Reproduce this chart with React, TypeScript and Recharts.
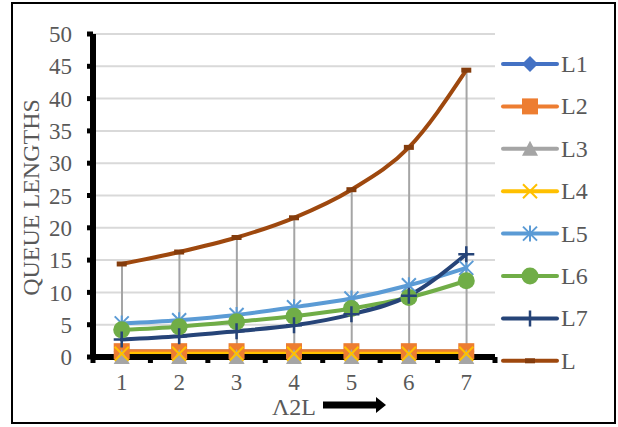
import React from 'react';
import { ComposedChart, Line, Bar, XAxis, YAxis, CartesianGrid } from 'recharts';

const categories = [1, 2, 3, 4, 5, 6, 7];
const L1 = [0.85, 0.85, 0.85, 0.85, 0.85, 0.85, 0.85];
const L2 = [0.9, 0.9, 0.9, 0.9, 0.9, 0.9, 0.9];
const L3 = [0, 0, 0, 0, 0, 0, 0];
const L4 = [0.5, 0.5, 0.5, 0.5, 0.5, 0.5, 0.5];
const L5 = [5.2, 5.7, 6.5, 7.7, 9.05, 11.1, 13.8];
const L6 = [4.2, 4.7, 5.45, 6.3, 7.5, 9.2, 11.8];
const L7 = [2.7, 3.2, 4.0, 4.9, 6.6, 9.5, 15.9];
const L = [14.4, 16.25, 18.5, 21.55, 25.9, 32.45, 44.4];
const yTicks = [0, 5, 10, 15, 20, 25, 30, 35, 40, 45, 50];
const xLabel = 'Λ2L';
const yLabel = 'QUEUE LENGTHS';

const series = [
  { key: 'L1', values: L1, color: '#4472C4', marker: 'diamond' },
  { key: 'L2', values: L2, color: '#ED7D31', marker: 'square' },
  { key: 'L3', values: L3, color: '#A5A5A5', marker: 'triangle' },
  { key: 'L4', values: L4, color: '#FFC000', marker: 'x' },
  { key: 'L5', values: L5, color: '#5B9BD5', marker: 'star' },
  { key: 'L6', values: L6, color: '#70AD47', marker: 'circle' },
  { key: 'L7', values: L7, color: '#264478', marker: 'plus' },
  { key: 'L', values: L, color: '#9E480E', marker: 'dash' },
];

const data = categories.map((c, i) => {
  const row: Record<string, number> = { x: c };
  series.forEach((s) => {
    row[s.key] = s.values[i];
  });
  return row;
});

const xTicks: number[] = [];
categories.forEach((c) => {
  xTicks.push(c - 0.5);
  xTicks.push(c);
});
xTicks.push(categories[categories.length - 1] + 0.5);
const xDomain = [categories[0] - 0.5, categories[categories.length - 1] + 0.5];

const FONT = "'Liberation Serif', 'Times New Roman', Times, serif";
const TXT = '#595959';

function renderMarker(shape: string, cx: number, cy: number, color: string) {
  switch (shape) {
    case 'diamond':
      return <path d={`M${cx},${cy - 8} L${cx + 8},${cy} L${cx},${cy + 8} L${cx - 8},${cy} Z`} fill={color} />;
    case 'square':
      return <rect x={cx - 8} y={cy - 8} width={16} height={16} fill={color} />;
    case 'triangle':
      return <path d={`M${cx},${cy - 8} L${cx + 8},${cy + 7} L${cx - 8},${cy + 7} Z`} fill={color} />;
    case 'x':
      return (
        <path
          d={`M${cx - 7},${cy - 7} L${cx + 7},${cy + 7} M${cx + 7},${cy - 7} L${cx - 7},${cy + 7}`}
          stroke={color}
          strokeWidth={2}
          fill="none"
        />
      );
    case 'star':
      return (
        <path
          d={`M${cx - 7},${cy - 7} L${cx + 7},${cy + 7} M${cx + 7},${cy - 7} L${cx - 7},${cy + 7} M${cx},${cy - 8} L${cx},${cy + 8}`}
          stroke={color}
          strokeWidth={2}
          fill="none"
        />
      );
    case 'circle':
      return <circle cx={cx} cy={cy} r={8.5} fill={color} />;
    case 'plus':
      return (
        <path
          d={`M${cx - 8},${cy} L${cx + 8},${cy} M${cx},${cy - 8} L${cx},${cy + 8}`}
          stroke={color}
          strokeWidth={2.5}
          fill="none"
        />
      );
    case 'dash':
      return <rect x={cx - 5} y={cy - 2.5} width={10} height={5} fill="#843C0C" />;
    default:
      return null;
  }
}

const XTick = (props: any) => {
  const { x, y, payload } = props;
  const v = payload.value;
  if (Number.isInteger(v)) {
    return (
      <text x={x} y={y + 33} textAnchor="middle" fontSize={23} fill={TXT} fontFamily={FONT}>
        {v}
      </text>
    );
  }
  return <rect x={x - 2.5} y={y} width={5} height={6} fill="#000" />;
};

const YAxisLabel = (props: any) => {
  const vb = props.viewBox || { x: 0, y: 34, width: 93, height: 323 };
  const cx = vb.x + 39;
  const cy = vb.y + vb.height / 2 + 2;
  return (
    <text
      x={cx}
      y={cy}
      transform={`rotate(-90 ${cx} ${cy})`}
      textAnchor="middle"
      fontSize={24}
      fill={TXT}
      fontFamily={FONT}
    >
      {yLabel}
    </text>
  );
};

const XAxisLabel = (props: any) => {
  const vb = props.viewBox || { x: 93, y: 357, width: 402, height: 70 };
  const cx = vb.x + vb.width / 2;
  const by = vb.y + 58;
  const ax = cx + 29;
  const ay = vb.y + 48;
  return (
    <g>
      <text x={cx} y={by} textAnchor="middle" fontSize={24} fill={TXT} fontFamily={FONT}>
        {xLabel}
      </text>
      <rect x={ax} y={ay - 3.5} width={55} height={7} fill="#000" />
      <path d={`M${ax + 53},${ay - 8} L${ax + 63},${ay} L${ax + 53},${ay + 8} Z`} fill="#000" />
    </g>
  );
};

const Legend = () => (
  <svg width={618} height={427} style={{ position: 'absolute', left: 0, top: 0, pointerEvents: 'none' }}>
    {series.map((s, i) => {
      const y = 64 + i * 42.4;
      return (
        <g key={s.key}>
          <line x1={503} x2={557} y1={y} y2={y} stroke={s.color} strokeWidth={4} strokeLinecap="round" />
          {renderMarker(s.marker, 530, y, s.color)}
          <text x={561} y={y + 8} fontSize={24} fill={TXT} fontFamily={FONT}>
            {s.key}
          </text>
        </g>
      );
    })}
  </svg>
);

export default function App() {
  return (
    <div style={{ position: 'absolute', left: 0, top: 0, width: 618, height: 427, background: '#fff' }}>
      <div
        style={{
          position: 'absolute',
          left: 11,
          top: 2,
          width: 605,
          height: 422,
          border: '2px solid #000',
          boxSizing: 'border-box',
        }}
      />
      <ComposedChart width={618} height={427} data={data} margin={{ top: 34, right: 123, bottom: 0, left: 0 }}>
        <CartesianGrid vertical={false} stroke="#D9D9D9" strokeWidth={2} />
        <XAxis
          dataKey="x"
          type="number"
          domain={xDomain}
          ticks={xTicks}
          interval={0}
          allowDecimals
          height={70}
          tickSize={0}
          tickMargin={0}
          tickLine={false}
          axisLine={{ stroke: '#000', strokeWidth: 6 }}
          tick={<XTick />}
          label={<XAxisLabel />}
        />
        <XAxis
          xAxisId="top"
          orientation="top"
          dataKey="x"
          type="number"
          domain={xDomain}
          height={0}
          tick={false}
          tickLine={false}
          axisLine={{ stroke: '#000', strokeWidth: 5 }}
        />
        <YAxis
          domain={[0, 50]}
          ticks={yTicks}
          interval={0}
          width={93}
          tickSize={6}
          tickMargin={15}
          tickLine={{ stroke: '#000', strokeWidth: 5 }}
          axisLine={{ stroke: '#000', strokeWidth: 6 }}
          tick={{ fontSize: 23, fill: TXT, fontFamily: FONT }}
          label={<YAxisLabel />}
        />
        <YAxis
          yAxisId="right"
          orientation="right"
          domain={[0, 50]}
          width={0}
          tick={false}
          tickLine={false}
          axisLine={{ stroke: '#000', strokeWidth: 5 }}
        />
        <Bar dataKey="L" barSize={2} fill="#A5A5A5" isAnimationActive={false} />
        {series.map((s) => (
          <Line
            key={s.key}
            dataKey={s.key}
            type="monotone"
            stroke={s.color}
            strokeWidth={4}
            strokeLinecap="round"
            strokeLinejoin="round"
            isAnimationActive={false}
            activeDot={false}
            dot={(p: any) => (
              <g key={`${s.key}-${p.index}`}>{renderMarker(s.marker, p.cx, p.cy, s.color)}</g>
            )}
          />
        ))}
      </ComposedChart>
      <Legend />
    </div>
  );
}
